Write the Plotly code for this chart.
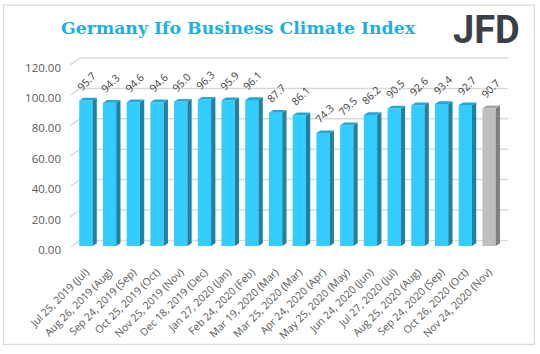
import plotly.graph_objects as go

# ---- data ----
categories = [
    "Jul 25, 2019 (Jul)", "Aug 26, 2019 (Aug)", "Sep 24, 2019 (Sep)", "Oct 25, 2019 (Oct)",
    "Nov 25, 2019 (Nov)", "Dec 18, 2019 (Dec)", "Jan 27, 2020 (Jan)", "Feb 24, 2020 (Feb)",
    "Mar 19, 2020 (Mar)", "Mar 25, 2020 (Mar)", "Apr 24, 2020 (Apr)", "May 25, 2020 (May)",
    "Jun 24, 2020 (Jun)", "Jul 27, 2020 (Jul)", "Aug 25, 2020 (Aug)", "Sep 24, 2020 (Sep)",
    "Oct 26, 2020 (Oct)", "Nov 24, 2020 (Nov)",
]
values = [95.7, 94.3, 94.6, 94.6, 95.0, 96.3, 95.9, 96.1, 87.7, 86.1,
          74.3, 79.5, 86.2, 90.5, 92.6, 93.4, 92.7, 90.7]
is_forecast = [False] * 17 + [True]
y_ticks = [0, 20, 40, 60, 80, 100, 120]

# ---- style ----
FRONT = "#33ccff"; SIDE = "#1f82a3"; TOP = "#27a6d2"
G_FRONT = "#bfbfbf"; G_SIDE = "#7f7f7f"; G_TOP = "#a5a5a5"
BAR_W = 0.56
YMAX = 125
XMAX = 17.8
ML, MR, MT, MB = 74, 32, 56, 106
W, H = 540, 354
PW = W - ML - MR
PH = H - MT - MB
px_per_x = PW / (XMAX + 0.5)
px_per_y = PH / YMAX
DX = 4.3 / px_per_x        # depth in x units
DY = 2.7 / px_per_y        # depth in y units
WALL_UP = 5.6              # px the back wall sits above the front
WALL_LEFT = -0.5 + 6 / px_per_x
GRID = "#d9d9d9"

xs = list(range(len(values)))
fronts = [G_FRONT if f else FRONT for f in is_forecast]

fig = go.Figure()
fig.add_trace(go.Bar(
    x=xs, y=values, width=BAR_W,
    marker=dict(color=fronts, line=dict(width=0)),
    hoverinfo="skip", showlegend=False,
))

shapes = []
# back-wall gridlines
for t in y_ticks:
    shapes.append(dict(type="line", xref="x", yref="y", ysizemode="pixel", yanchor=t,
                       x0=WALL_LEFT, x1=XMAX, y0=WALL_UP, y1=WALL_UP,
                       line=dict(color=GRID, width=1.5), layer="below"))
    shapes.append(dict(type="line", xref="paper", yref="paper",
                       xsizemode="pixel", xanchor=0, x0=-3.5, x1=6,
                       ysizemode="pixel", yanchor=t / YMAX, y0=-1, y1=WALL_UP,
                       line=dict(color=GRID, width=1.5), layer="below"))

# 3D side and top faces
for i, v in enumerate(values):
    side = G_SIDE if is_forecast[i] else SIDE
    top = G_TOP if is_forecast[i] else TOP
    xl = i - BAR_W / 2
    xr = i + BAR_W / 2
    shapes.append(dict(type="path", xref="x", yref="y", layer="above",
                       path=f"M{xr},0 L{xr+DX},{DY} L{xr+DX},{v+DY} L{xr},{v} Z",
                       fillcolor=side, line=dict(width=0)))
    shapes.append(dict(type="path", xref="x", yref="y", layer="above",
                       path=f"M{xl},{v} L{xr},{v} L{xr+DX},{v+DY} L{xl+DX},{v+DY} Z",
                       fillcolor=top, line=dict(width=0)))

# outer border
shapes.append(dict(type="rect", xref="paper", yref="paper",
                   x0=(3.5 - ML) / PW, x1=(534.5 - ML) / PW,
                   y0=(H - MB - 347.5) / PH, y1=(H - MB - 4.5) / PH,
                   line=dict(color="#d9d9d9", width=1.2), fillcolor="rgba(0,0,0,0)", layer="below"))

annotations = []
for i, v in enumerate(values):
    annotations.append(dict(x=i, y=v, xref="x", yref="y", text=f"{v:.1f}",
                            showarrow=False, textangle=-45,
                            xanchor="center", yanchor="middle", xshift=1, yshift=19.5,
                            font=dict(family="Open Sans", size=10.5, color="#404040")))
annotations.append(dict(text="<b>JFD</b>", xref="paper", yref="paper",
                        x=(522 - ML) / PW, y=(H - MB - 29.5) / PH,
                        xanchor="right", yanchor="middle", showarrow=False,
                        font=dict(family="Roboto", size=38, color="#3a4047")))

fig.update_layout(
    width=W, height=H,
    margin=dict(l=ML, r=MR, t=MT, b=MB, pad=0),
    paper_bgcolor="white", plot_bgcolor="white",
    title=dict(text="<b>Germany Ifo Business Climate Index</b>",
               xref="container", yref="container", x=238 / W, y=1 - 28 / H,
               xanchor="center", yanchor="middle",
               font=dict(family="DejaVu Serif", size=17.3, color="#1ab2dc")),
    xaxis=dict(range=[-0.5, XMAX], tickmode="array", tickvals=xs, ticktext=categories,
               tickangle=-45, showgrid=False, zeroline=False, showline=False, ticks="",
               ticklabelstandoff=17,
               tickfont=dict(family="Open Sans", size=10.5, color="#595959")),
    yaxis=dict(range=[0, YMAX], tickmode="array", tickvals=y_ticks,
               ticktext=[f"{t:.2f}" for t in y_ticks],
               showgrid=False, zeroline=False, showline=False, ticks="",
               ticklabelstandoff=12, ticklabelshift=4,
               tickfont=dict(family="Open Sans", size=11.5, color="#595959")),
    shapes=shapes, annotations=annotations,
    bargap=0.44,
)

fig.write_html("out.html")
